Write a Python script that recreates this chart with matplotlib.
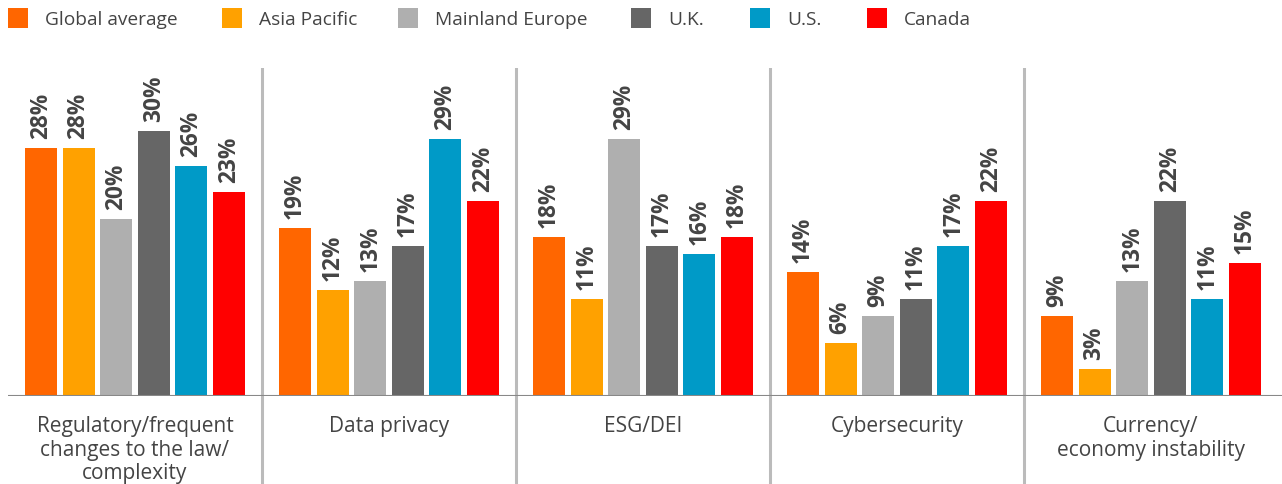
import matplotlib
matplotlib.use("Agg")
import matplotlib.pyplot as plt
from matplotlib.patches import Rectangle
from matplotlib.transforms import offset_copy
import numpy as np

plt.rcParams["font.family"] = ["Open Sans", "DejaVu Sans"]

# ── Data ──────────────────────────────────────────────────────────────────────
categories = [
    "Regulatory/frequent\nchanges to the law/\ncomplexity",
    "Data privacy",
    "ESG/DEI",
    "Cybersecurity",
    "Currency/\neconomy instability",
]
regions = ["Global average", "Asia Pacific", "Mainland Europe", "U.K.", "U.S.", "Canada"]
global_avg   = [28, 19, 18, 14, 9]
asia_pacific = [28, 12, 11, 6, 3]
mainland_eu  = [20, 13, 29, 9, 13]
uk           = [30, 17, 17, 11, 22]
us           = [26, 29, 16, 17, 11]
canada       = [23, 22, 18, 22, 15]
series = [global_avg, asia_pacific, mainland_eu, uk, us, canada]

colors = ["#FF6600", "#FFA100", "#AFAFAF", "#666666", "#009AC7", "#FF0000"]
text_color = "#444444"

# legend swatch left edges (px), layout only
legend_x = [8, 222, 398, 631, 750, 867]

# ── Figure ────────────────────────────────────────────────────────────────────
W, H = 1282, 484
fig = plt.figure(figsize=(W / 100, H / 100), dpi=100)
ax = fig.add_axes([8 / W, 88 / H, 1274 / W, 328 / H])

x = np.arange(len(categories))
step = 0.148
width = 0.126

for j, (vals, col) in enumerate(zip(series, colors)):
    pos = x + (j - 2.5) * step
    ax.bar(pos, vals, width=width, color=col, zorder=2)
    for p, v in zip(pos, vals):
        tr = offset_copy(ax.transData, fig=fig, x=0, y=9, units="dots")
        ax.text(p, v, f"{v}%", transform=tr, rotation=90, ha="center", va="bottom",
                fontsize=16.3, fontweight="bold", color=text_color, clip_on=False)

ax.set_xlim(-0.5, 4.516)
ax.set_ylim(0, 328 / 8.85)

# separators between groups
for s in x[:-1] + 0.5:
    ax.axvline(s, ymin=0, ymax=1, color="#BBBBBB", lw=2.2, zorder=1)
    ax.plot([s, s], [0, -88 / 8.85], color="#BBBBBB", lw=2.2, clip_on=False, zorder=1)

ax.axhline(0, color="#888888", lw=1.5, zorder=3)

# category labels
for xi, cat in zip(x, categories):
    tr = offset_copy(ax.transData, fig=fig, x=0, y=-20, units="dots")
    ax.text(xi, 0, cat, transform=tr, ha="center", va="top", fontsize=15,
            color=text_color, linespacing=1.17)

for spine in ax.spines.values():
    spine.set_visible(False)
ax.set_xticks([])
ax.set_yticks([])

# legend
for lx, name, col in zip(legend_x, regions, colors):
    fig.patches.append(Rectangle((lx / W, 1 - 28 / H), 20 / W, 20 / H,
                                 transform=fig.transFigure, facecolor=col,
                                 edgecolor="none"))
    fig.text((lx + 37) / W, 1 - 18 / H, name, ha="left", va="center_baseline",
             fontsize=13.8, color=text_color)

fig.savefig("out.png", dpi=100)
